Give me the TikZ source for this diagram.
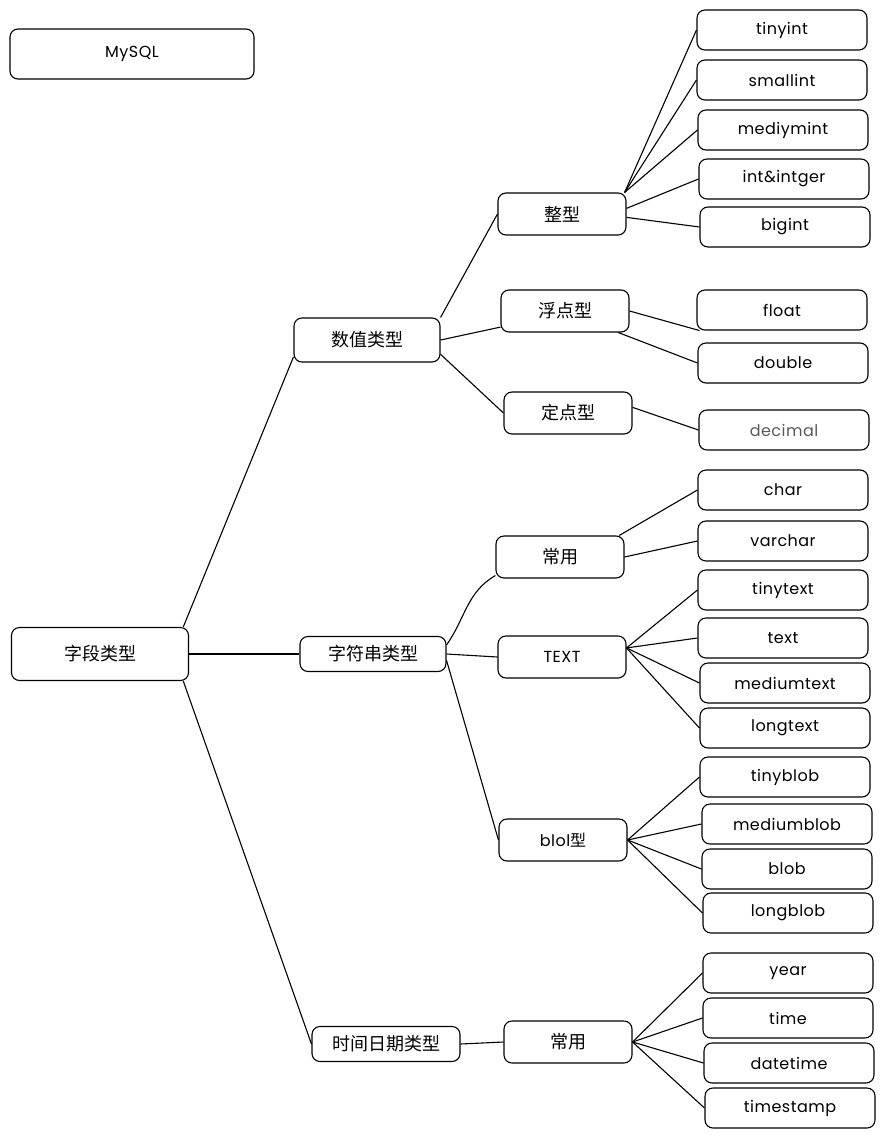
\documentclass[tikz,border=0pt]{standalone}
\usepackage{fontspec}
\setmainfont{Poppins}[LetterSpace=3]
\newfontfamily\cjk{Noto Sans CJK SC}
\usepackage{tikz}

\begin{document}
\begin{tikzpicture}[x=1pt,y=-1pt]
\tikzstyle{every node}=[font=\fontsize{16}{19}\selectfont]
\tikzstyle{box}=[draw,rounded corners=8pt,line width=1.1pt,inner sep=0pt,align=center]
\tikzstyle{leaf}=[box,minimum width=170pt,minimum height=40pt]
\tikzstyle{mid}=[box,minimum width=128pt,minimum height=42pt]
\tikzstyle{zh}=[font=\fontsize{18}{21}\selectfont\cjk]
\tikzstyle{edge}=[draw,-,line width=1.1pt]
\useasboundingbox (0,0) rectangle (885,1138);
\node[box,minimum width=244pt,minimum height=50pt] (mysql) at (132,54) {MySQL};
\node[box,zh,minimum width=177pt,minimum height=53pt] (root) at (100,654) {字段类型};
\node[box,zh,minimum width=146pt,minimum height=44pt] (num) at (367,340) {数值类型};
\node[box,zh,minimum width=146pt,minimum height=35pt] (str) at (373,654) {字符串类型};
\node[box,zh,minimum width=148pt,minimum height=35pt] (date) at (386,1044) {时间日期类型};
\foreach \pos/\name/\txt in {{(562,214)/int/整型},{(565,311)/flt/浮点型},{(568,413)/fix/定点型},
    {(560,557)/com/常用},{(568,1042)/dcom/常用}}
  \node[mid,zh] (\name) at \pos {\txt};
\node[mid] (txt) at (562,657) {TEXT};
\node[mid] (blo) at (563,840) {blol{\cjk 型}};
\foreach \pos/\name/\txt in {{(782,30)/tinyint/tinyint},{(782,80)/smallint/smallint},
    {(783,130)/mediymint/mediymint},{(784,179)/intger/int\&intger},{(785,227)/bigint/bigint},
    {(782,310)/float/float},{(783,363)/double/double},
    {(783,490)/char/char},{(783,541)/varchar/varchar},
    {(783,590)/tinytext/tinytext},{(783,638)/text/text},{(785,683)/mediumtext/mediumtext},
    {(785,728)/longtext/longtext},
    {(785,777)/tinyblob/tinyblob},{(787,824)/mediumblob/mediumblob},{(787,869)/blob/blob},
    {(788,913)/longblob/longblob},
    {(788,973)/year/year},{(788,1018)/time/time},{(789,1063)/datetime/datetime},
    {(790,1108)/timestamp/timestamp}}
  \node[leaf] (\name) at \pos {\txt};
\node[leaf,text=black!65] (decimal) at (784,430) {decimal};
% first level
\path[edge] (root.18) to (num.193);
\path[edge] (root.east) to (str.west);
\path[edge] (root.-18) to (date.west);
% numbers
\path[edge] (num.north east) to (int.west);
\path[edge] (num.east) to (flt.194);
\path[edge] (num.-11) to (fix.west);
\foreach \leaf/\ang in {tinyint/19,smallint/19,mediymint/19,intger/5,bigint/-3}
  \path[edge] (int.\ang) to (\leaf.west);
\path[edge] (flt.east) to (float.194);
\path[edge] (flt.-22) to (double.west);
\path[edge] (fix.5) to (decimal.west);
% strings
\path[edge] (str.7) to[out=55,in=210] (com.196);
\path[edge] (str.east) to (txt.west);
\path[edge] (str.-5) to (blo.west);
\path[edge] (com.20) to (char.west);
\path[edge] (com.east) to (varchar.west);
\foreach \leaf in {tinytext,text,mediumtext,longtext}
  \path[edge] (txt.8) to (\leaf.west);
\foreach \leaf in {tinyblob,mediumblob,blob,longblob}
  \path[edge] (blo.east) to (\leaf.west);
% date and time
\path[edge] (date.east) to (dcom.west);
\foreach \leaf in {year,time,datetime,timestamp}
  \path[edge] (dcom.east) to (\leaf.west);
\end{tikzpicture}
\end{document}
